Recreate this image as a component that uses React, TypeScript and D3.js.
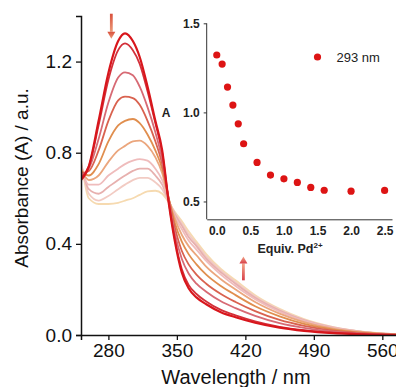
import React, { useEffect, useRef } from 'react';
import * as d3 from 'd3';

const WAVELENGTHS = [252, 260, 270, 280, 290, 297, 305, 312, 320, 328, 335, 342, 348, 355, 362, 370, 380, 395, 410, 430, 455, 480, 510, 540, 575];

// absorbance spectra, from 0 equiv (red) to excess Pd2+ (pale)
const spec0 = [0.68, 0.74, 0.94, 1.15, 1.29, 1.324, 1.29, 1.22, 1.09, 0.94, 0.81, 0.57, 0.41, 0.275, 0.205, 0.165, 0.135, 0.10, 0.078, 0.054, 0.032, 0.018, 0.008, 0.003, 0.0];
const spec1 = [0.69, 0.74, 0.92, 1.12, 1.25, 1.28, 1.25, 1.19, 1.07, 0.93, 0.80, 0.575, 0.42, 0.29, 0.22, 0.18, 0.147, 0.11, 0.086, 0.06, 0.036, 0.021, 0.01, 0.004, 0.0];
const spec2 = [0.70, 0.73, 0.86, 1.02, 1.13, 1.153, 1.14, 1.09, 1.00, 0.89, 0.77, 0.585, 0.445, 0.335, 0.27, 0.225, 0.19, 0.148, 0.118, 0.084, 0.052, 0.031, 0.015, 0.006, 0.001];
const spec3 = [0.71, 0.72, 0.81, 0.94, 1.03, 1.046, 1.04, 1.01, 0.94, 0.85, 0.75, 0.59, 0.47, 0.37, 0.31, 0.265, 0.225, 0.18, 0.145, 0.105, 0.066, 0.04, 0.019, 0.008, 0.001];
const spec4 = [0.72, 0.70, 0.75, 0.85, 0.92, 0.94, 0.948, 0.93, 0.88, 0.81, 0.73, 0.595, 0.49, 0.41, 0.355, 0.31, 0.265, 0.215, 0.175, 0.126, 0.082, 0.049, 0.024, 0.01, 0.002];
const spec5 = [0.73, 0.68, 0.70, 0.76, 0.81, 0.83, 0.85, 0.853, 0.83, 0.78, 0.71, 0.59, 0.51, 0.44, 0.39, 0.35, 0.30, 0.245, 0.20, 0.145, 0.094, 0.057, 0.028, 0.012, 0.002];
const spec6 = [0.74, 0.66, 0.66, 0.70, 0.73, 0.75, 0.765, 0.772, 0.765, 0.73, 0.68, 0.59, 0.52, 0.465, 0.415, 0.375, 0.325, 0.265, 0.215, 0.157, 0.102, 0.062, 0.031, 0.013, 0.002];
const spec7 = [0.75, 0.64, 0.62, 0.65, 0.68, 0.70, 0.72, 0.73, 0.73, 0.70, 0.66, 0.585, 0.53, 0.48, 0.43, 0.39, 0.335, 0.275, 0.225, 0.163, 0.107, 0.065, 0.032, 0.014, 0.003];
const spec8 = [0.76, 0.62, 0.59, 0.61, 0.64, 0.66, 0.68, 0.69, 0.69, 0.67, 0.64, 0.58, 0.535, 0.49, 0.443, 0.40, 0.345, 0.283, 0.232, 0.169, 0.111, 0.067, 0.034, 0.014, 0.003];
const spec9 = [0.77, 0.60, 0.575, 0.575, 0.58, 0.59, 0.60, 0.615, 0.63, 0.633, 0.62, 0.58, 0.54, 0.50, 0.455, 0.41, 0.355, 0.29, 0.24, 0.175, 0.115, 0.07, 0.035, 0.015, 0.003];

const SPECTRA = [spec0, spec1, spec2, spec3, spec4, spec5, spec6, spec7, spec8, spec9];
const SPECTRA_COLORS = ['#d8161c', '#d3303a', '#d76a74', '#d9624f', '#e08e4e', '#eba67d', '#efbcbc', '#e7b0ae', '#f2cbc3', '#f6dab0'];

const X_TICKS = [280, 350, 420, 490, 560];
const Y_TICKS = [0, 0.4, 0.8, 1.2];

// inset: absorbance at 293 nm vs equivalents of Pd2+
const EQUIV = [0, 0.08, 0.16, 0.24, 0.32, 0.4, 0.6, 0.8, 1.0, 1.2, 1.4, 1.6, 2.0, 2.5];
const A293 = [1.322, 1.271, 1.142, 1.041, 0.936, 0.824, 0.719, 0.648, 0.627, 0.607, 0.579, 0.563, 0.558, 0.562];
const INSET_X_TICKS = [0, 0.5, 1.0, 1.5, 2.0, 2.5];
const INSET_Y_TICKS = [0.5, 1.0, 1.5];

const WIDTH = 396;
const HEIGHT = 387;
const FONT = '"Liberation Sans", Arial, sans-serif';

const App: React.FC = () => {
  const svgRef = useRef<SVGSVGElement>(null);

  useEffect(() => {
    const svg = d3.select(svgRef.current);
    svg.selectAll('*').remove();

    const x = d3.scaleLinear().domain([252, 575]).range([81, 397]);
    const y = d3.scaleLinear().domain([0, 1.4]).range([335, 16]);

    const defs = svg.append('defs');
    defs.append('clipPath').attr('id', 'plot-clip')
      .append('rect')
      .attr('x', 81).attr('y', 0)
      .attr('width', WIDTH - 81).attr('height', 335);

    const upGrad = defs.append('linearGradient')
      .attr('id', 'up-grad').attr('x1', 0).attr('y1', 0).attr('x2', 0).attr('y2', 1);
    upGrad.append('stop').attr('offset', 0).attr('stop-color', '#f3a98a');
    upGrad.append('stop').attr('offset', 1).attr('stop-color', '#d8404a');

    const downGrad = defs.append('linearGradient')
      .attr('id', 'down-grad').attr('x1', 0).attr('y1', 0).attr('x2', 0).attr('y2', 1);
    downGrad.append('stop').attr('offset', 0).attr('stop-color', '#d9503c');
    downGrad.append('stop').attr('offset', 1).attr('stop-color', '#eb9a78');

    // spectra, palest first so the red ones sit on top
    const line = d3.line<number>()
      .x((_, i) => x(WAVELENGTHS[i]))
      .y(d => y(d))
      .curve(d3.curveMonotoneX);

    const curves = svg.append('g').attr('clip-path', 'url(#plot-clip)');
    for (let i = SPECTRA.length - 1; i >= 0; i--) {
      curves.append('path')
        .attr('d', line(SPECTRA[i]))
        .attr('fill', 'none')
        .attr('stroke', SPECTRA_COLORS[i])
        .attr('stroke-width', i === 0 ? 2.2 : 1.8)
        .attr('stroke-linejoin', 'round');
    }

    // main axes
    const xAxis = svg.append('g')
      .attr('transform', 'translate(0,335)')
      .call(d3.axisBottom(x).tickValues(X_TICKS).tickSizeOuter(0).tickSize(5).tickPadding(4));
    const yAxis = svg.append('g')
      .attr('transform', 'translate(81,0)')
      .call(d3.axisLeft(y).tickValues(Y_TICKS).tickFormat(d3.format('.1f')).tickSizeOuter(0).tickSize(5).tickPadding(4));

    [xAxis, yAxis].forEach(ax => {
      ax.select('.domain').attr('stroke', '#111').attr('stroke-width', 1.5);
      ax.selectAll('.tick line').attr('stroke', '#111').attr('stroke-width', 1.3);
      ax.selectAll('text')
        .style('font-family', FONT)
        .style('font-size', '19px')
        .attr('fill', '#111');
    });

    svg.append('text')
      .attr('x', 236).attr('y', 384)
      .attr('text-anchor', 'middle')
      .style('font-family', FONT).style('font-size', '20px')
      .attr('fill', '#111')
      .text('Wavelength / nm');

    svg.append('text')
      .attr('transform', 'translate(28,178) rotate(-90)')
      .attr('text-anchor', 'middle')
      .style('font-family', FONT).style('font-size', '19px')
      .attr('fill', '#111')
      .text('Absorbance (A) / a.u.');

    // arrows
    const arrow = (ax: number, from: number, to: number, fill: string) => {
      const x0 = x(ax);
      const yFrom = y(from);
      const yTo = y(to);
      const dir = yTo > yFrom ? 1 : -1;
      const headLen = 7;
      const shaftEnd = yTo - dir * headLen;
      svg.append('rect')
        .attr('x', x0 - 1.4).attr('width', 2.8)
        .attr('y', Math.min(yFrom, shaftEnd)).attr('height', Math.abs(shaftEnd - yFrom))
        .attr('fill', fill);
      svg.append('path')
        .attr('d', `M${x0 - 4},${shaftEnd} L${x0 + 4},${shaftEnd} L${x0},${yTo} Z`)
        .attr('fill', fill);
    };
    arrow(283, 1.41, 1.3, 'url(#down-grad)');
    arrow(418, 0.24, 0.345, 'url(#up-grad)');

    // inset
    const xi = d3.scaleLinear().domain([-0.15, 2.61]).range([206.7, 392]);
    const yi = d3.scaleLinear().domain([0.4, 1.5]).range([219.3, 23.3]);

    const inset = svg.append('g');
    const ixAxis = inset.append('g')
      .attr('transform', 'translate(0,219.3)')
      .call(d3.axisBottom(xi).tickValues(INSET_X_TICKS).tickFormat(d3.format('.1f')).tickSizeOuter(0).tickSize(0).tickPadding(7));
    const iyAxis = inset.append('g')
      .attr('transform', 'translate(206.7,0)')
      .call(d3.axisLeft(yi).tickValues(INSET_Y_TICKS).tickFormat(d3.format('.1f')).tickSizeOuter(0).tickSize(3).tickPadding(4));

    [ixAxis, iyAxis].forEach(ax => {
      ax.select('.domain').attr('stroke', '#333').attr('stroke-width', 1);
      ax.selectAll('.tick line').attr('stroke', '#333');
      ax.selectAll('text')
        .style('font-family', FONT)
        .style('font-size', '12px')
        .style('font-weight', 'bold')
        .attr('fill', '#222');
    });
    iyAxis.select('.domain').attr('d', `M0,${yi(0.4)}V${yi(1.5)}`);

    inset.append('text')
      .attr('x', 166).attr('y', 116.5)
      .attr('text-anchor', 'middle')
      .style('font-family', FONT).style('font-size', '12px').style('font-weight', 'bold')
      .attr('fill', '#222')
      .text('A');

    const xlab = inset.append('text')
      .attr('x', 290).attr('y', 253)
      .attr('text-anchor', 'middle')
      .style('font-family', FONT).style('font-size', '12.5px').style('font-weight', 'bold')
      .attr('fill', '#222');
    xlab.append('tspan').text('Equiv. Pd');
    xlab.append('tspan').attr('dy', -5).style('font-size', '8px').text('2+');

    inset.selectAll('circle.pt')
      .data(EQUIV.map((e, i) => ({ e, a: A293[i] })))
      .enter()
      .append('circle')
      .attr('class', 'pt')
      .attr('cx', d => xi(d.e))
      .attr('cy', d => yi(d.a))
      .attr('r', 3.6)
      .attr('fill', '#dd1414');

    // legend
    inset.append('circle')
      .attr('cx', 317.5).attr('cy', 57).attr('r', 3.6)
      .attr('fill', '#dd1414');
    inset.append('text')
      .attr('x', 336.5).attr('y', 62)
      .style('font-family', FONT).style('font-size', '13px')
      .attr('fill', '#222')
      .text('293 nm');
  }, []);

  return (
    <svg
      ref={svgRef}
      width={WIDTH}
      height={HEIGHT}
      style={{ position: 'absolute', left: 0, top: 0, display: 'block', background: '#fff' }}
    />
  );
};

export default App;
